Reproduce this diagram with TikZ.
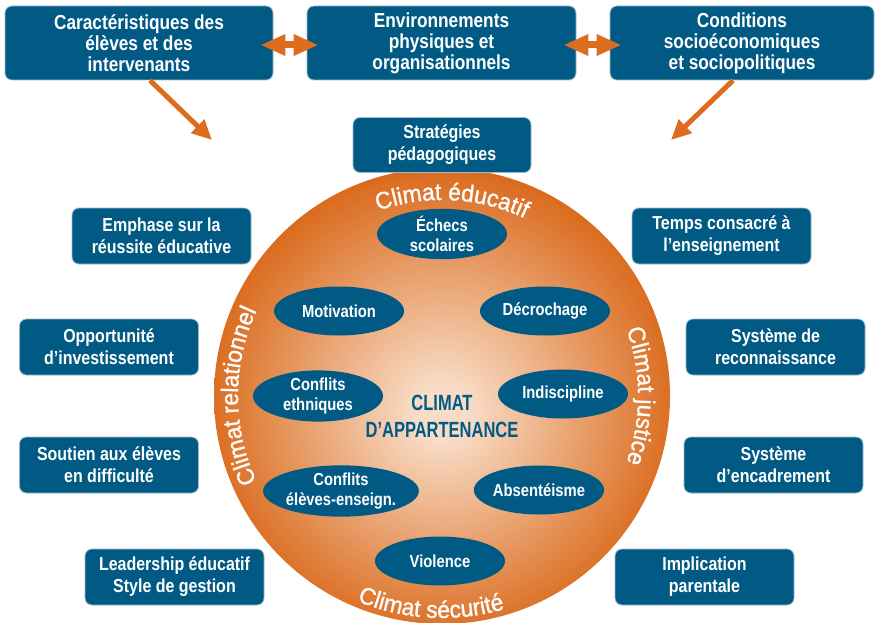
\documentclass[tikz,border=0pt]{standalone}
\usepackage{fontspec}
\setmainfont{Liberation Sans}
\newfontfamily\condfont{Liberation Sans}[FakeStretch=0.85]
\newfontfamily\narrowfont{Liberation Sans}[FakeStretch=0.75]
\newfontfamily\arcfont{Liberation Sans}[FakeStretch=0.95, FakeBold=1]
\usetikzlibrary{arrows.meta}
\usetikzlibrary{calc}
\usetikzlibrary{shapes.geometric}
\usetikzlibrary{decorations.text}

\definecolor{boxblue}{HTML}{005A84}
\definecolor{boxline}{HTML}{9DBBCB}
\definecolor{arrorange}{HTML}{DE6C1F}
\definecolor{glowin}{HTML}{F8DCC6}
\definecolor{glowout}{HTML}{DA6A1C}

\pgfdeclareradialshading{climatglow}{\pgfpoint{0bp}{-2bp}}{color(0bp)=(glowin); color(3bp)=(glowin); color(26bp)=(glowout); color(50bp)=(glowout)}

\newcommand\arcfmt{\color{white}\arcfont\fontsize{24}{26}\selectfont}

\tikzset{
  box/.style={rectangle, rounded corners=7pt, fill=boxblue, draw=boxline, line width=0.8pt,
    text=white, align=center, inner sep=0pt},
  topbox/.style={box, minimum width=268pt, minimum height=74pt,
    font=\condfont\bfseries\fontsize{20.3}{21}\selectfont},
  sidebox/.style={box, minimum width=179pt, minimum height=56pt,
    font=\condfont\bfseries\fontsize{18.8}{22}\selectfont},
  oval/.style={ellipse, fill=boxblue, text=white, align=center, inner sep=0pt,
    minimum width=130pt, minimum height=49pt,
    font=\condfont\bfseries\fontsize{17.4}{20}\selectfont},
  flow/.style={arrorange, line width=5pt, -{Triangle[length=20pt,width=18pt]}},
  both/.style={arrorange, line width=7pt,
    {Triangle[length=25pt,width=20pt]}-{Triangle[length=25pt,width=20pt]}},
  arctext/.style={decorate, decoration={text along path, text align=center, text={|\arcfmt|#1}}}
}

\begin{document}
\begin{tikzpicture}[x=1pt, y=1pt]
  \useasboundingbox (0,0) rectangle (875,-623);

  % central circle
  \node[circle, minimum size=456pt, inner sep=0pt, shading=climatglow] (clim) at (442,-396) {};

  % climates written along the rim
  \path[arctext={Climat éducatif}] ($(clim.center)+(137:196)$) arc[start angle=137, end angle=37, radius=196];
  \path[arctext={Climat relationnel}] ($(clim.center)+(230:204)$) arc[start angle=230, end angle=130, radius=204];
  \path[arctext={Climat justice}] ($(clim.center)+(50:196)$) arc[start angle=50, end angle=-50, radius=196];
  \path[arctext={Climat sécurité}] ($(clim.center)+(217:222)$) arc[start angle=217, end angle=317, radius=222];

  \node[text=boxblue, align=center, font=\narrowfont\bfseries\fontsize{22}{27}\selectfont] (app) at (442,-416) {CLIMAT\\D’APPARTENANCE};

  % problems inside the circle
  \foreach \n/\p/\t in {ech/{442,-234}/{Échecs\\scolaires}, mot/{339,-311}/Motivation,
      dec/{545,-311}/Décrochage, eth/{318,-396}/{Conflits\\ethniques},
      ind/{563,-394}/Indiscipline, ens/{341,-491}/{Conflits\\élèves-enseign.},
      abs/{539,-490}/Absentéisme, vio/{440,-561}/Violence} {
    \node[oval] (\n) at (\p) {\t};
  }

  % top row
  \node[topbox] (car) at (139,-43) {Caractéristiques des\\élèves et des\\intervenants};
  \node[topbox, minimum width=269pt] (env) at (441.5,-43) {Environnements\\physiques et\\organisationnels};
  \node[topbox, minimum width=264pt] (soc) at (742,-43) {Conditions\\socioéconomiques\\et sociopolitiques};

  \draw[both] ([xshift=-13pt,yshift=-2pt]car.east) -- ([xshift=12pt,yshift=-2pt]env.west);
  \draw[both] ([xshift=-13pt,yshift=-2pt]env.east) -- ([xshift=12pt,yshift=-2pt]soc.west);

  \coordinate (inL) at (212,-140);
  \coordinate (inR) at (671,-140);
  \draw[flow] ([xshift=11pt]car.south) -- (inL);
  \draw[flow] ([xshift=-9pt]soc.south) -- (inR);

  \node[sidebox, minimum width=178pt, minimum height=55pt] (strat) at (442,-145) {Stratégies\\pédagogiques};

  % left column
  \node[sidebox] (emph) at (161.5,-236) {Emphase sur la\\réussite éducative};
  \node[sidebox] (opp) at (109,-347) {Opportunité\\d’investissement};
  \node[sidebox] (sout) at (109,-465) {Soutien aux élèves\\en difficulté};
  \node[sidebox] (lead) at (174.5,-577) {Leadership éducatif\\Style de gestion};

  % right column
  \node[sidebox] (temps) at (721.5,-236) {Temps consacré à\\l’enseignement};
  \node[sidebox] (reco) at (775.5,-347) {Système de\\reconnaissance};
  \node[sidebox] (enca) at (773.5,-465) {Système\\d’encadrement};
  \node[sidebox] (impl) at (704.5,-577) {Implication\\parentale};
\end{tikzpicture}
\end{document}
